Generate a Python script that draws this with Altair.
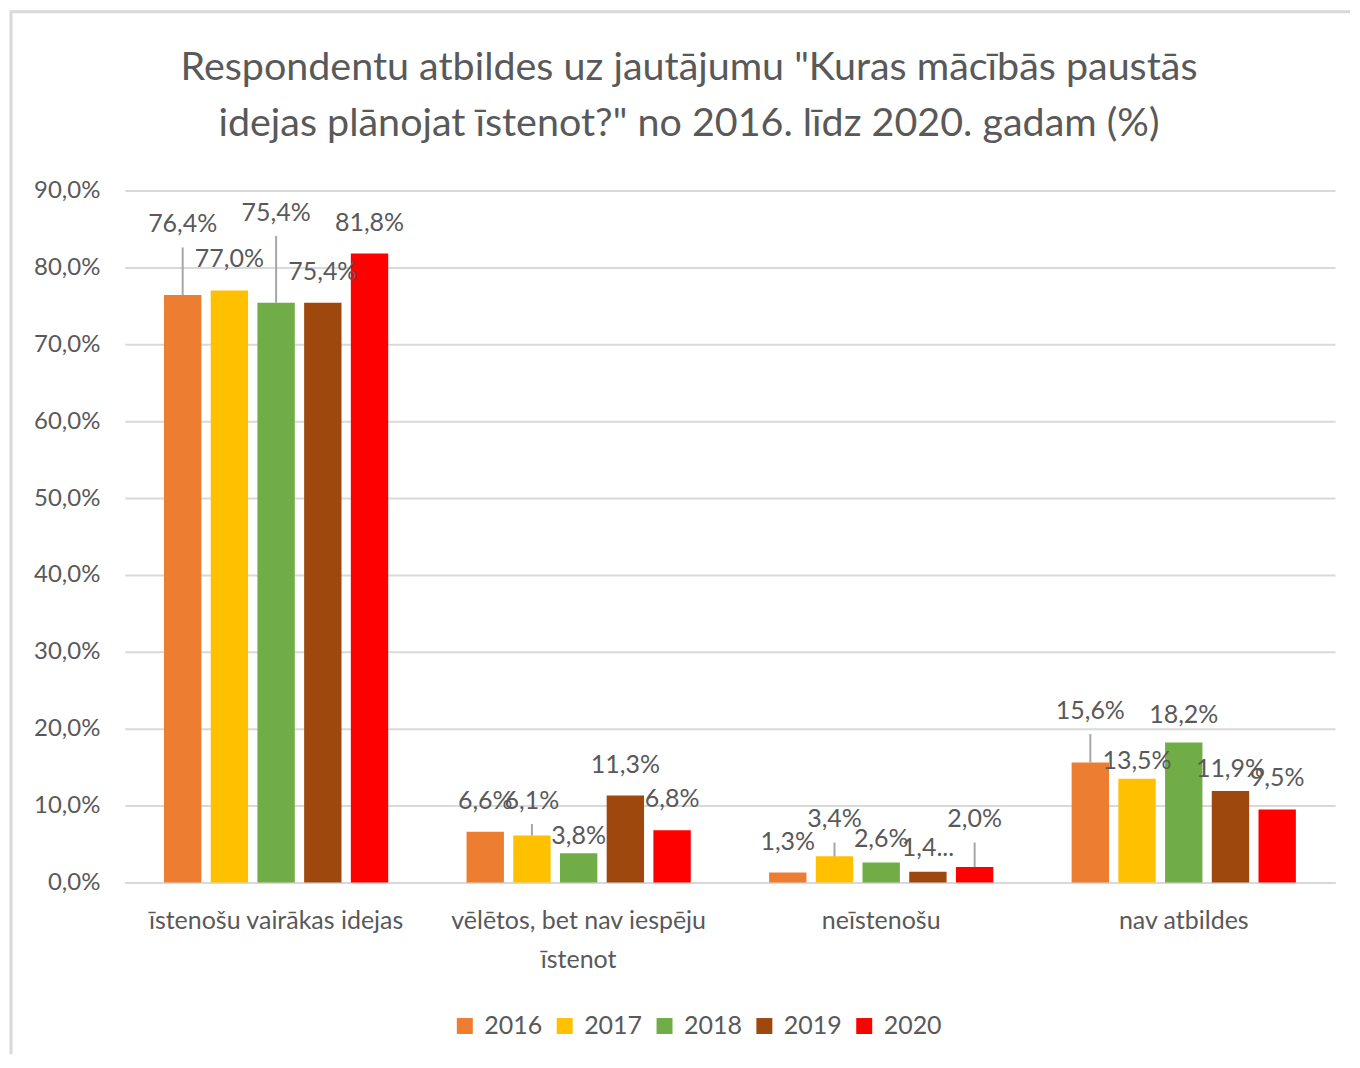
import altair as alt
import pandas as pd

categories = ["īstenošu vairākas idejas", "vēlētos, bet nav iespēju īstenot", "neīstenošu", "nav atbildes"]
years = ["2016", "2017", "2018", "2019", "2020"]
v2016 = [76.4, 6.6, 1.3, 15.6]
v2017 = [77.0, 6.1, 3.4, 13.5]
v2018 = [75.4, 3.8, 2.6, 18.2]
v2019 = [75.4, 11.3, 1.4, 11.9]
v2020 = [81.8, 6.8, 2.0, 9.5]
colors = ["#ED7D31", "#FFC000", "#70AD47", "#9E480E", "#FF0000"]

# manual label lifts (percentage points above the default label place), as dragged in the original
lift2016 = [5.2, 0, 0, 2.7]
lift2017 = [0, 0.5, 0.8, -1.7]
lift2018 = [7.7, -1.8, -1.0, -0.4]
lift2019 = [0, 0, -0.9, -1.2]
lift2020 = [0, 0, 2.2, 0]

series = [v2016, v2017, v2018, v2019, v2020]
lifts = [lift2016, lift2017, lift2018, lift2019, lift2020]

rows = []
for y, vals, lf in zip(years, series, lifts):
    for c, v, l in zip(categories, vals, lf):
        lab = f"{v:.1f}".replace(".", ",") + "%"
        if y == "2019" and c == "neīstenošu":
            lab = "1,4..."
        rows.append({"category": c, "year": y, "value": v, "label": lab,
                     "label_y": v + l, "lead_top": v + l + 1.0, "lift": l})
df = pd.DataFrame(rows)

FONT = "Lato"
GREY = "#595959"

x_enc = alt.X("category:N", sort=categories,
              scale=alt.Scale(paddingInner=0.228, paddingOuter=0.114),
              axis=alt.Axis(title=None, labelAngle=0, labelFontSize=25, labelColor=GREY,
                            labelFont=FONT, labelPadding=26, ticks=False, labelLimit=500,
                            domainColor="#d9d9d9", domainWidth=2, labelLineHeight=39,
                            labelExpr="datum.label == 'vēlētos, bet nav iespēju īstenot' ? ['vēlētos, bet nav iespēju', 'īstenot'] : datum.label"))
xo_enc = alt.XOffset("year:N", sort=years, scale=alt.Scale(paddingInner=0.2, paddingOuter=0.1))
y_scale = alt.Scale(domain=[0, 90], nice=False)

base = alt.Chart(df)

bars = base.mark_bar().encode(
    x=x_enc,
    xOffset=xo_enc,
    y=alt.Y("value:Q", scale=y_scale,
            axis=alt.Axis(title=None, values=list(range(0, 91, 10)), labelFontSize=24,
                          labelColor=GREY, labelFont=FONT, labelPadding=25, ticks=False,
                          domain=False, gridColor="#d9d9d9", gridWidth=2,
                          labelExpr="replace(format(datum.value, '.1f'), '.', ',') + '%'")),
    color=alt.Color("year:N", sort=years, scale=alt.Scale(domain=years, range=colors),
                    legend=alt.Legend(title=None, orient="none", direction="horizontal",
                                      legendX=328, legendY=824, symbolType="square",
                                      symbolSize=256, symbolStrokeWidth=0,
                                      labelFontSize=25, labelFont=FONT, labelColor=GREY,
                                      labelOffset=7, columnPadding=9)),
)

leaders = base.transform_filter("datum.lift >= 0.5").mark_rule(color="#a6a6a6", strokeWidth=2).encode(
    x=x_enc,
    xOffset=xo_enc,
    y=alt.Y("value:Q", scale=y_scale),
    y2="lead_top:Q",
)

labels = base.mark_text(baseline="middle", dy=-31, fontSize=25, font=FONT, color=GREY).encode(
    x=x_enc,
    xOffset=xo_enc,
    y=alt.Y("label_y:Q", scale=y_scale),
    text="label:N",
)

frame_data = alt.Data(values=[{"k": 1}])
frame_top = alt.Chart(frame_data).mark_rule(color="#d9d9d9", strokeWidth=3).encode(
    x=alt.value(-115), x2=alt.value(1227), y=alt.value(-179))
frame_left = alt.Chart(frame_data).mark_rule(color="#d9d9d9", strokeWidth=3).encode(
    x=alt.value(-114), y=alt.value(-180), y2=alt.value(865))

chart = alt.layer(bars, leaders, labels, frame_top, frame_left).properties(
    width=1212, height=693,
    padding=0,
    title=alt.TitleParams(
        text=["Respondentu atbildes uz jautājumu \"Kuras mācībās paustās",
              "idejas plānojat īstenot?\" no 2016. līdz 2020. gadam (%)"],
        fontSize=39.5, font=FONT, fontWeight="normal", color=GREY,
        lineHeight=56, offset=-135, dx=-41, anchor="middle"),
).configure_view(stroke=None)

chart.save("out.html", embed_options={"renderer": "svg", "actions": False})
